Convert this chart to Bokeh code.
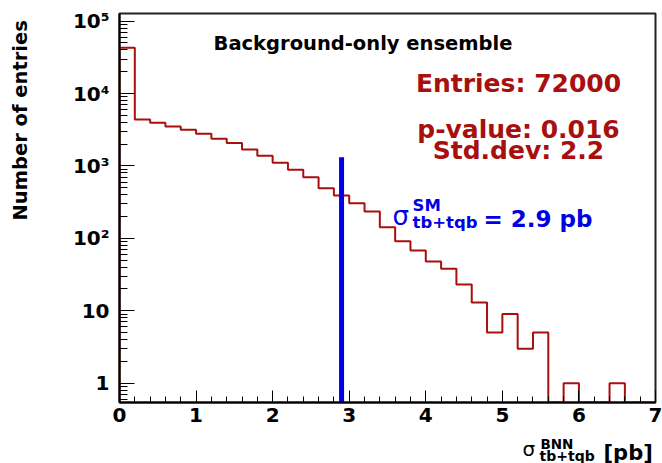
import numpy as np
from bokeh.plotting import figure
from bokeh.layouts import column, row
from bokeh.models import Range1d, Label, FixedTicker, SingleIntervalTicker
from bokeh.embed import file_html
from bokeh.resources import INLINE

# ---- data ----
bin_lo = 0.0
bin_hi = 7.0
n_bins = 35
counts = [43000, 4390, 3950, 3510, 3160, 2790, 2380, 2070, 1690, 1380,
          1110, 887, 700, 493, 391, 306, 235, 143, 91, 68,
          48, 38, 23, 13, 5, 9, 3, 5, 0, 1,
          0, 0, 1, 0, 0]
sm_xsec = 2.9
sm_line_top = 1320

x_start, x_end = 0.0, 7.0
y_start, y_end = 0.541, 1.276e5

y_ticks = [1, 10, 100, 1000, 10000, 100000]
y_tick_labels = ["1", "10", "10\u00b2", "10\u00b3", "10\u2074", "10\u2075"]

title_text = "Background-only ensemble"
entries_text = "Entries: 72000"
pvalue_text = "p-value: 0.016"
stddev_text = "Std.dev: 2.2"
sm_sigma = "\u03c3"
sm_sup = "SM"
sm_sub = "tb+tqb"
sm_value = "= 2.9 pb"
xt_sigma = "\u03c3"
xt_sup = "BNN"
xt_sub = "tb+tqb"
xt_unit = "[pb]"
y_title = "Number of entries"

RED = "#a80f0f"
BLUE = "#0000e6"
FONT = "DejaVu Sans"

W, H = 662, 463
YT_W = 40          # width of the y-title strip
XT_H = 32          # height of the x-title strip
MAIN_W = W - YT_W
MAIN_H = H - XT_H
FRAME_BOTTOM = 402  # canvas pixel row of the x axis

# ---- main figure ----
p = figure(width=MAIN_W, height=MAIN_H, output_backend="svg", toolbar_location=None,
           y_axis_type="log",
           x_range=Range1d(x_start, x_end), y_range=Range1d(y_start, y_end),
           min_border_left=119 - YT_W, min_border_right=7, min_border_top=13,
           min_border_bottom=MAIN_H - FRAME_BOTTOM)
p.background_fill_color = "white"
p.border_fill_color = "white"
p.outline_line_color = "#222222"
p.outline_line_width = 2
p.xgrid.visible = False
p.ygrid.visible = False

# histogram outline
edges = np.linspace(bin_lo, bin_hi, n_bins + 1)
vals = [c if c > 0 else y_start for c in counts]
hx = [edges[0]]
hy = [y_start]
for i, v in enumerate(vals):
    hx += [edges[i], edges[i + 1]]
    hy += [v, v]
hx.append(edges[-1])
hy.append(y_start)
p.line(hx, hy, line_color=RED, line_width=2)

# SM line
p.segment(x0=[sm_xsec], y0=[y_start], x1=[sm_xsec], y1=[sm_line_top],
          line_color=BLUE, line_width=5)

# axes
xa = p.xaxis[0]
xa.ticker = SingleIntervalTicker(interval=1, num_minor_ticks=5)
xa.axis_line_width = 2
xa.axis_line_color = "black"
xa.major_tick_in = 12
xa.major_tick_out = 0
xa.minor_tick_in = 6
xa.minor_tick_out = 0
xa.major_tick_line_color = "black"
xa.minor_tick_line_color = "black"
xa.major_label_text_font = FONT
xa.major_label_text_font_style = "bold"
xa.major_label_text_font_size = "20px"
xa.major_label_text_color = "black"
xa.major_label_standoff = 5

ya = p.yaxis[0]
minor = [m * t for t in [0.1] + y_ticks for m in range(2, 10)]
ya.ticker = FixedTicker(ticks=y_ticks, minor_ticks=minor)
ya.major_label_overrides = {t: lab for t, lab in zip(y_ticks, y_tick_labels)}
ya.axis_line_width = 2
ya.axis_line_color = "black"
ya.major_tick_in = 15
ya.major_tick_out = 0
ya.minor_tick_in = 8
ya.minor_tick_out = 0
ya.major_tick_line_color = "black"
ya.minor_tick_line_color = "black"
ya.major_label_text_font = FONT
ya.major_label_text_font_style = "bold"
ya.major_label_text_font_size = "20px"
ya.major_label_text_color = "black"
ya.major_label_standoff = 10


def lab(fig, text, x, y, size, color="black", style="bold", align="left",
        angle=0.0):
    fig.add_layout(Label(x=x, y=y, x_units="screen", y_units="screen", text=text,
                         text_font=FONT, text_font_size=size,
                         text_font_style=style, text_color=color,
                         text_align=align, text_baseline="alphabetic",
                         angle=angle))


lab(p, title_text, 243.5, 358.7, "19.5px", align="center")
lab(p, entries_text, 399, 319.3, "25px", color=RED, align="center")
lab(p, pvalue_text, 399, 273, "25px", color=RED, align="center")
lab(p, stddev_text, 399, 252, "25px", color=RED, align="center")

lab(p, sm_sigma, 273, 187, "26px", color=BLUE, style="normal")
lab(p, sm_sup, 293, 197, "16.5px", color=BLUE)
lab(p, sm_sub, 293, 180.3, "16.5px", color=BLUE)
lab(p, sm_value, 364, 183.7, "23px", color=BLUE)


def strip(w, h):
    f = figure(width=w, height=h, output_backend="svg", toolbar_location=None,
               x_range=Range1d(0, w), y_range=Range1d(0, h),
               x_axis_location=None, y_axis_location=None,
               min_border=0)
    f.outline_line_color = None
    f.xgrid.visible = False
    f.ygrid.visible = False
    f.background_fill_color = "white"
    f.border_fill_color = "white"
    return f


# y-title strip (left); its frame is aligned with the main frame (top 13, bottom 402)
yt = strip(YT_W, MAIN_H)
lab(yt, y_title, 20, FRAME_BOTTOM - 220, "19.5px", align="left", angle=np.pi / 2)

# x-title strip (bottom); y measured up from the canvas bottom
xt = strip(W, XT_H)
lab(xt, xt_sigma, 522, H - 448, "20px", style="normal")
lab(xt, xt_sup, 540, H - 443, "13.5px")
lab(xt, xt_sub, 539, H - 455, "14px")
lab(xt, xt_unit, 603, H - 452, "21px")

layout = column(row(yt, p, spacing=0), xt, spacing=0)
open("out.html", "w").write(file_html(layout, INLINE))
